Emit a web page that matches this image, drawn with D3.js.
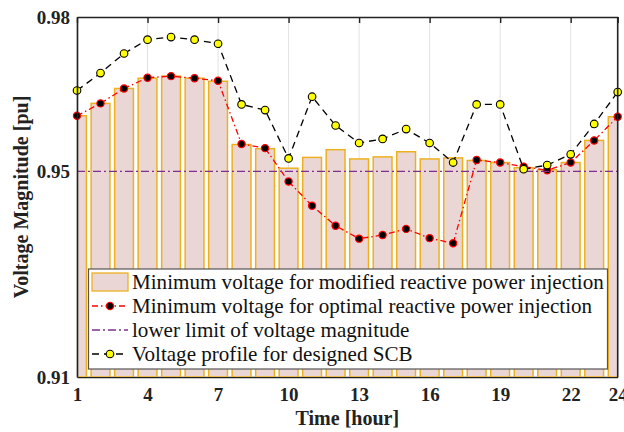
<!DOCTYPE html>
<html>
<head>
<meta charset="utf-8">
<script src="https://cdn.jsdelivr.net/npm/d3@7"></script>
<style>
  body { margin: 0; background: #fff; }
  svg { display: block; }
</style>
</head>
<body>
<script>
const hours = [1, 2, 3, 4, 5, 6, 7, 8, 9, 10, 11, 12, 13, 14, 15, 16, 17, 18, 19, 20, 21, 22, 23, 24];

// minimum voltage for modified reactive power injection (bars)
const modifiedVoltage = [0.9608, 0.9632, 0.9661, 0.9681, 0.9685, 0.9681, 0.9675, 0.9552, 0.9544, 0.9506, 0.9527, 0.9542,
                         0.9524, 0.9528, 0.9538, 0.9524, 0.9526, 0.9521, 0.9517, 0.9507, 0.9503, 0.9517, 0.9560, 0.9606];

// minimum voltage for optimal reactive power injection
const optimalVoltage = [0.9608, 0.9632, 0.9661, 0.9682, 0.9685, 0.9681, 0.9676, 0.9553, 0.9545, 0.9480, 0.9433, 0.9394,
                        0.9369, 0.9376, 0.9388, 0.9370, 0.9360, 0.9522, 0.9517, 0.9509, 0.9502, 0.9517, 0.9560, 0.9606];

// voltage profile for designed SCB
const scbVoltage = [0.9657, 0.9691, 0.9729, 0.9756, 0.9761, 0.9756, 0.9748, 0.9630, 0.9619, 0.9525, 0.9645, 0.9589,
                    0.9555, 0.9563, 0.9582, 0.9555, 0.9517, 0.9630, 0.9630, 0.9504, 0.9512, 0.9533, 0.9592, 0.9654];

const lowerLimit = 0.95;

const xTicks = [1, 4, 7, 10, 13, 16, 19, 22, 24];
const yTicks = [0.91, 0.95, 0.98];

const legendLabels = [
  'Minimum voltage for modified reactive power injection',
  'Minimum voltage for optimal reactive power injection',
  'lower limit of voltage magnitude',
  'Voltage profile for designed SCB'
];

const SERIF = "'Liberation Serif', 'Times New Roman', serif";
const BAR_FILL = '#ebd6d6';
const BAR_EDGE = '#edb120';
const LIMIT_COLOR = '#7e2f8e';

const width = 624;
const height = 432;
const margin = { top: 17, right: 6.3, bottom: 55, left: 77 };

const svg = d3.select('body')
              .append('svg')
              .attr('width', width)
              .attr('height', height);

const xScale = d3.scaleLinear()
                 .domain([1, 24])
                 .range([margin.left, width - margin.right]);

const yScale = d3.scaleLinear()
                 .domain([0.91, 0.98])
                 .range([height - margin.bottom, margin.top]);

const plotLeft = xScale.range()[0];
const plotRight = xScale.range()[1];
const plotTop = yScale.range()[1];
const plotBottom = yScale.range()[0];

svg.append('defs')
   .append('clipPath')
   .attr('id', 'plot-clip')
   .append('rect')
   .attr('x', plotLeft)
   .attr('y', plotTop)
   .attr('width', plotRight - plotLeft)
   .attr('height', plotBottom - plotTop);

// vertical grid lines
svg.append('g')
   .selectAll('line')
   .data(xTicks)
   .enter()
   .append('line')
   .attr('x1', (d) => xScale(d))
   .attr('x2', (d) => xScale(d))
   .attr('y1', plotTop)
   .attr('y2', plotBottom)
   .attr('stroke', '#e2e2e2')
   .attr('stroke-width', 1);

// bottom axis (drawn under the bars, like the original)
const xAxis = d3.axisBottom(xScale)
                .tickValues(xTicks)
                .tickSize(0)
                .tickPadding(11)
                .tickFormat(d3.format('d'));

const xAxisG = svg.append('g')
                  .attr('transform', 'translate(0,' + plotBottom + ')')
                  .call(xAxis);
xAxisG.select('.domain').attr('stroke', '#222').attr('stroke-width', 1.6);
xAxisG.selectAll('text')
      .attr('font-family', SERIF)
      .attr('font-weight', 'bold')
      .attr('font-size', 19)
      .attr('fill', '#222');

// bars
const bandWidth = (xScale(2) - xScale(1)) * 0.8;
svg.append('g')
   .attr('clip-path', 'url(#plot-clip)')
   .selectAll('rect')
   .data(hours)
   .enter()
   .append('rect')
   .attr('x', (h) => xScale(h) - bandWidth / 2)
   .attr('width', bandWidth)
   .attr('y', (h, i) => yScale(modifiedVoltage[i]))
   .attr('height', (h, i) => plotBottom - yScale(modifiedVoltage[i]))
   .attr('fill', BAR_FILL)
   .attr('stroke', BAR_EDGE)
   .attr('stroke-width', 1.5);

// optimal reactive power injection line
const line = d3.line()
               .x((d) => xScale(d[0]))
               .y((d) => yScale(d[1]));

const optimalPoints = hours.map((h, i) => [h, optimalVoltage[i]]);
const scbPoints = hours.map((h, i) => [h, scbVoltage[i]]);

svg.append('path')
   .datum(optimalPoints)
   .attr('d', line)
   .attr('fill', 'none')
   .attr('stroke', '#ff0000')
   .attr('stroke-width', 1.3)
   .attr('stroke-dasharray', '6,3,1.5,3');

svg.append('g')
   .selectAll('circle')
   .data(optimalPoints)
   .enter()
   .append('circle')
   .attr('cx', (d) => xScale(d[0]))
   .attr('cy', (d) => yScale(d[1]))
   .attr('r', 3.6)
   .attr('fill', '#000')
   .attr('stroke', '#ff0000')
   .attr('stroke-width', 1.2);

// lower limit
svg.append('line')
   .attr('x1', plotLeft)
   .attr('x2', plotRight)
   .attr('y1', yScale(lowerLimit))
   .attr('y2', yScale(lowerLimit))
   .attr('stroke', LIMIT_COLOR)
   .attr('stroke-width', 1.3)
   .attr('stroke-dasharray', '8,3,2,3');

// designed SCB line
svg.append('path')
   .datum(scbPoints)
   .attr('d', line)
   .attr('fill', 'none')
   .attr('stroke', '#000')
   .attr('stroke-width', 1.3)
   .attr('stroke-dasharray', '7,5');

svg.append('g')
   .selectAll('circle')
   .data(scbPoints)
   .enter()
   .append('circle')
   .attr('cx', (d) => xScale(d[0]))
   .attr('cy', (d) => yScale(d[1]))
   .attr('r', 3.8)
   .attr('fill', '#ffff00')
   .attr('stroke', '#000')
   .attr('stroke-width', 1.1);

// left, top and right frame lines on top of everything
const yAxis = d3.axisLeft(yScale)
                .tickValues(yTicks)
                .tickSize(0)
                .tickPadding(7)
                .tickFormat(d3.format('.2f'));

const yAxisG = svg.append('g')
                  .attr('transform', 'translate(' + plotLeft + ',0)')
                  .call(yAxis);
yAxisG.select('.domain').attr('stroke', '#222').attr('stroke-width', 1.6);
yAxisG.selectAll('text')
      .attr('font-family', SERIF)
      .attr('font-weight', 'bold')
      .attr('font-size', 19)
      .attr('fill', '#222');

const topAxis = d3.axisTop(xScale)
                  .tickValues(xTicks)
                  .tickSizeInner(-6)
                  .tickSizeOuter(0)
                  .tickFormat('');

const topAxisG = svg.append('g')
                    .attr('transform', 'translate(0,' + plotTop + ')')
                    .call(topAxis);
topAxisG.select('.domain').attr('stroke', '#222').attr('stroke-width', 1.6);
topAxisG.selectAll('line').attr('stroke', '#222').attr('stroke-width', 1.4);

svg.append('line')
   .attr('x1', plotRight)
   .attr('x2', plotRight)
   .attr('y1', plotTop)
   .attr('y2', plotBottom)
   .attr('stroke', '#222')
   .attr('stroke-width', 1.6);

// axis titles
svg.append('text')
   .attr('x', (plotLeft + plotRight) / 2)
   .attr('y', 425)
   .attr('text-anchor', 'middle')
   .attr('font-family', SERIF)
   .attr('font-weight', 'bold')
   .attr('font-size', 20)
   .attr('fill', '#222')
   .text('Time [hour]');

svg.append('text')
   .attr('transform', 'translate(28,' + (plotTop + plotBottom) / 2 + ') rotate(-90)')
   .attr('text-anchor', 'middle')
   .attr('font-family', SERIF)
   .attr('font-weight', 'bold')
   .attr('font-size', 20)
   .attr('fill', '#222')
   .text('Voltage Magnitude [pu]');

// legend
const legendBox = { x: 88.5, y: 269, w: 519, h: 100 };
const rowY = [282, 306, 330, 354];
const sampleX1 = 92;
const sampleX2 = 128;
const sampleMid = (sampleX1 + sampleX2) / 2;

const legend = svg.append('g');

legend.append('rect')
      .attr('x', legendBox.x)
      .attr('y', legendBox.y)
      .attr('width', legendBox.w)
      .attr('height', legendBox.h)
      .attr('fill', '#fff')
      .attr('stroke', '#555')
      .attr('stroke-width', 1.2);

legend.append('rect')
      .attr('x', sampleX1)
      .attr('y', rowY[0] - 9)
      .attr('width', sampleX2 - sampleX1)
      .attr('height', 18)
      .attr('fill', BAR_FILL)
      .attr('stroke', BAR_EDGE)
      .attr('stroke-width', 1.3);

legend.append('line')
      .attr('x1', sampleX1).attr('x2', sampleX2)
      .attr('y1', rowY[1]).attr('y2', rowY[1])
      .attr('stroke', '#ff0000')
      .attr('stroke-width', 1.3)
      .attr('stroke-dasharray', '6,3,1.5,3');
legend.append('circle')
      .attr('cx', sampleMid).attr('cy', rowY[1]).attr('r', 3.6)
      .attr('fill', '#000').attr('stroke', '#ff0000').attr('stroke-width', 1.2);

legend.append('line')
      .attr('x1', sampleX1).attr('x2', sampleX2)
      .attr('y1', rowY[2]).attr('y2', rowY[2])
      .attr('stroke', LIMIT_COLOR)
      .attr('stroke-width', 1.3)
      .attr('stroke-dasharray', '8,3,2,3');

legend.append('line')
      .attr('x1', sampleX1).attr('x2', sampleX2)
      .attr('y1', rowY[3]).attr('y2', rowY[3])
      .attr('stroke', '#000')
      .attr('stroke-width', 1.3)
      .attr('stroke-dasharray', '7,5');
legend.append('circle')
      .attr('cx', sampleMid).attr('cy', rowY[3]).attr('r', 3.8)
      .attr('fill', '#ffff00').attr('stroke', '#000').attr('stroke-width', 1.1);

const legendTexts = legend.selectAll('text.label')
                          .data(legendLabels)
                          .enter()
                          .append('text')
                          .attr('class', 'label')
                          .attr('x', 132)
                          .attr('y', (d, i) => rowY[i])
                          .attr('dy', '0.32em')
                          .attr('font-family', SERIF)
                          .attr('font-size', 18)
                          .attr('fill', '#111')
                          .text((d) => d);

// size the legend font so the longest entry spans the same width as the original
const longest = legendTexts.node().getComputedTextLength();
legendTexts.attr('font-size', 18 * 472 / longest);
</script>
</body>
</html>
